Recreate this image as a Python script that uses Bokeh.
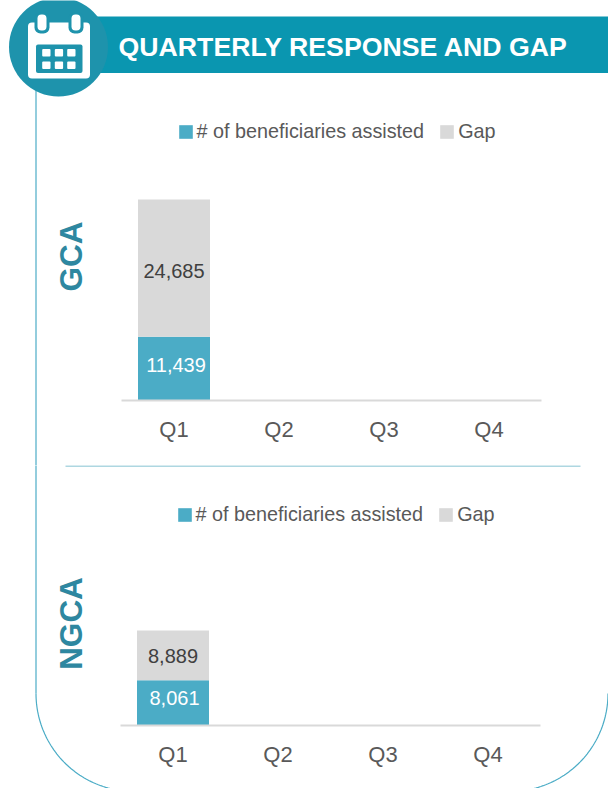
import numpy as np
from bokeh.embed import file_html
from bokeh.resources import INLINE
from bokeh.layouts import column
from bokeh.plotting import figure
from bokeh.models import (ColumnDataSource, FixedTicker, Legend, LegendItem, LinearAxis, Range1d)
from bokeh.core.properties import value

quarters = ["Q1", "Q2", "Q3", "Q4"]
series_names = ["# of beneficiaries assisted", "Gap"]
gca_assisted = [11439]
gca_gap = [24685]
ngca_assisted = [8061]
ngca_gap = [8889]
title_text = "QUARTERLY RESPONSE AND GAP"

BLUE, GREY = "#4BACC6", "#D9D9D9"
HEAD, DISC = "#0A96B0", "#1E93AC"
LBL = "#2E87A0"
SANS = "Liberation Sans"
W = 608


def panel(name, height, top, base_px, top_px, q1_px, assisted, gap, legend_xy, offs, name_y):
    total = assisted[0] + gap[0]
    scale = (base_px - top_px) / total
    y0 = -(top + height - base_px) / scale
    y1 = (base_px - top) / scale
    x0 = -q1_px / 105
    x1 = (W - q1_px) / 105
    p = figure(width=W, height=height, output_backend="svg", toolbar_location=None,
               x_range=Range1d(x0, x1), y_range=Range1d(y0, y1),
               x_axis_location=None, y_axis_location=None,
               min_border=0, min_border_left=0, min_border_right=0, min_border_top=0, min_border_bottom=0,
               outline_line_color=None, background_fill_color=None, border_fill_color=None)
    p.xgrid.visible = False
    p.ygrid.visible = False
    p.extra_x_ranges["px"] = Range1d(0, W)
    p.extra_y_ranges["px"] = Range1d(top + height, top)
    kw = dict(x_range_name="px", y_range_name="px")

    src = ColumnDataSource(dict(x=list(range(len(assisted))), a=assisted, g=gap))
    r = p.vbar_stack(["a", "g"], x="x", width=72 / 105, source=src, color=[BLUE, GREY], line_color=None)

    axis = LinearAxis(fixed_location=0, ticker=FixedTicker(ticks=list(range(len(quarters)))),
                      major_label_overrides={i: q for i, q in enumerate(quarters)},
                      major_tick_line_color=None, minor_tick_line_color=None,
                      axis_line_color="#D9D9D9", axis_line_width=2,
                      major_label_text_font=SANS, major_label_text_font_size="22px",
                      major_label_text_color="#595959", major_label_standoff=10,
                      bounds=(-0.5, 3.5))
    p.add_layout(axis, "below")

    p.text(x=[0], y=[assisted[0] / 2], text=[f"{assisted[0]:,}"], text_color="#FFFFFF", text_align="center",
           text_baseline="middle", text_font=value(SANS), text_font_size="20px",
           x_offset=offs[0][0], y_offset=offs[0][1])
    p.text(x=[0], y=[assisted[0] + gap[0] / 2], text=[f"{gap[0]:,}"], text_color="#404040", text_align="center",
           text_baseline="middle", text_font=value(SANS), text_font_size="20px",
           x_offset=offs[1][0], y_offset=offs[1][1])

    p.text(x=[70], y=[name_y], text=[name], angle=np.pi / 2,
           text_color=LBL, text_align="center", text_baseline="middle",
           text_font=value(SANS), text_font_style="bold", text_font_size="31.5px", **kw)

    legend = Legend(items=[LegendItem(label=series_names[0], renderers=[r[0]]),
                           LegendItem(label=series_names[1], renderers=[r[1]])],
                    orientation="horizontal", location=legend_xy, padding=0, margin=0,
                    spacing=14, glyph_width=17, glyph_height=17, label_standoff=3,
                    border_line_color=None, background_fill_color=None, background_fill_alpha=0,
                    label_text_font=SANS, label_text_font_size="19.8px", label_text_color="#595959")
    p.add_layout(legend, "center")
    return p, kw


p1, kw1 = panel("GCA", 465, 0, 400, 199, 173.5, gca_assisted, gca_gap, (176.5, 322), ((2, -4), (0, 3)), 256)
p2, kw2 = panel("NGCA", 323, 465, 725, 630, 172.5, ngca_assisted, ngca_gap, (175.5, 262), ((1.5, -5), (0, 1)), 623)

# frame lines
p1.line([35.5, 35.5], [90, 466], line_color=BLUE, line_width=1.2, **kw1)
p2.line([35.5, 35.5], [464, 693], line_color=BLUE, line_width=1.2, **kw2)
t = np.linspace(0, np.pi / 2, 60)
p2.line(133.5 - 98 * np.cos(t), 693 + 98 * np.sin(t), line_color=BLUE, line_width=1.2, **kw2)
p2.line(509.5 + 98 * np.cos(t), 693 + 98 * np.sin(t), line_color=BLUE, line_width=1.2, **kw2)
p2.line([65, 580], [465.5, 465.5], line_color="#5FB0C4", line_width=1, **kw2)

# header
p1.quad(left=[58], right=[W], top=[16], bottom=[72.5], color=HEAD, line_color=None, **kw1)
p1.circle(x=[58], y=[46.5], radius=49.5, color=DISC, line_color=None, **kw1)
p1.text(x=[118], y=[46], text=[title_text], text_color="#FFFFFF", text_baseline="middle",
        text_font=value(SANS), text_font_style="bold", text_font_size="26.7px", **kw1)

# calendar icon
p1.quad(left=[27.5], right=[89.5], top=[22], bottom=[78], color="#FFFFFF", line_color=None, border_radius=4, **kw1)
p1.quad(left=[35.5], right=[82], top=[44], bottom=[72.5], color=DISC, line_color=None, border_radius=2, **kw1)
p1.quad(left=[34, 68], right=[49, 83], top=[12, 12], bottom=[33, 33], color=DISC, line_color=None, border_radius=6, **kw1)
p1.quad(left=[37, 71], right=[46, 80], top=[14, 14], bottom=[30, 30], color="#FFFFFF", line_color=None, border_radius=4, **kw1)
for yy in (48.5, 61):
    for xx in (41.7, 54.3, 66.7):
        p1.quad(left=[xx], right=[xx + 8.3], top=[yy], bottom=[yy + 7.5], color="#FFFFFF", line_color=None, border_radius=1, **kw1)

layout = column(p1, p2, spacing=0)
html = file_html(layout, INLINE)
html = html.replace("<head>", "<head><style>html,body{margin:0;padding:0;overflow:hidden}</style>", 1)
open("out.html", "w").write(html)
